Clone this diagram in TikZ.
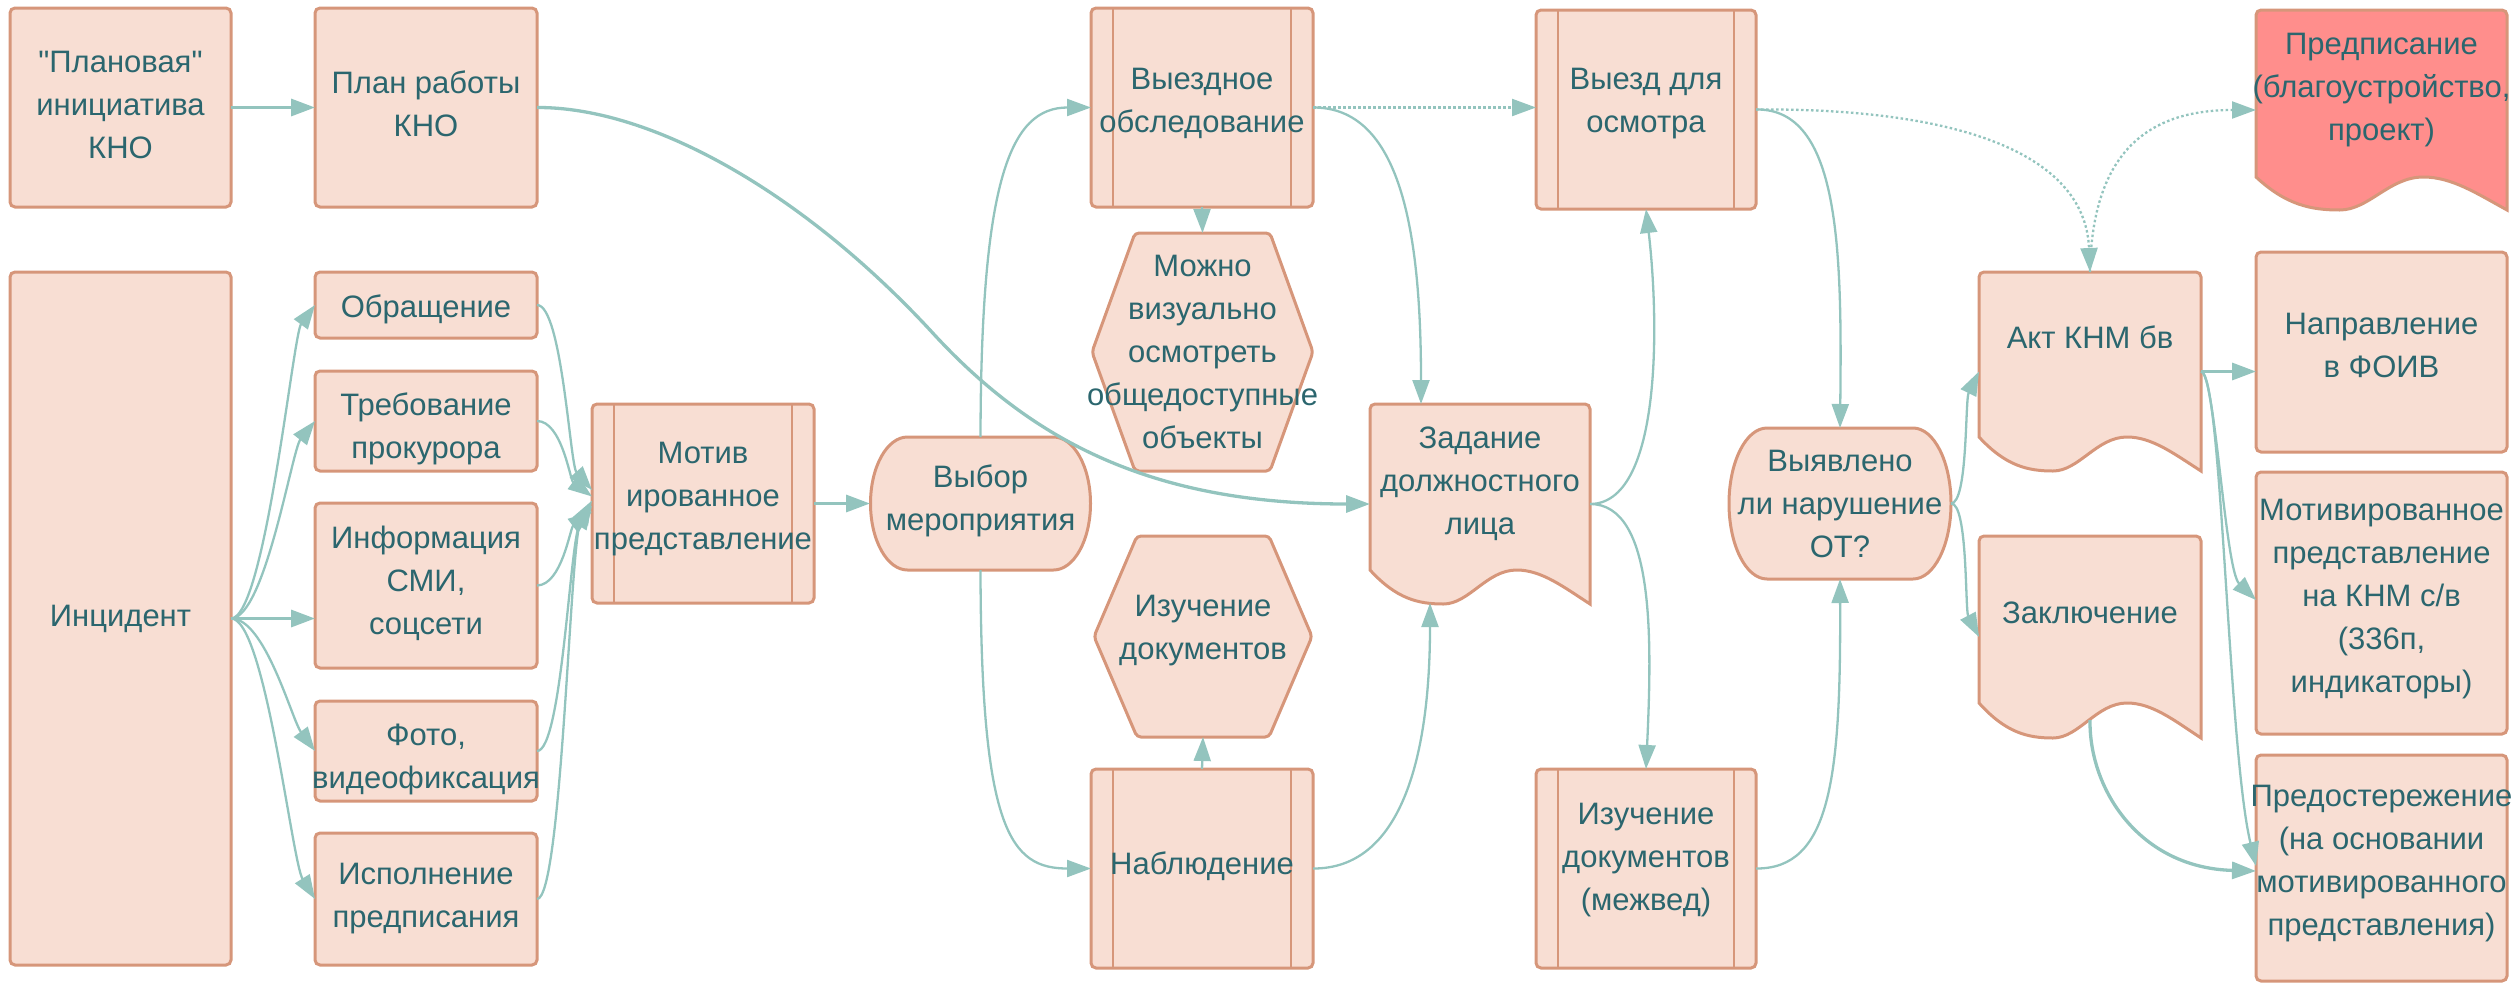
\documentclass[tikz,border=0pt]{standalone}
\usepackage{fontspec}
\newfontfamily\diagfont{Liberation Sans}
\usetikzlibrary{arrows.meta,calc}
\definecolor{fillc}{RGB}{248,222,211}
\definecolor{strokec}{RGB}{214,150,122}
\definecolor{edgec}{RGB}{147,196,190}
\definecolor{textc}{RGB}{43,102,110}
\definecolor{redc}{RGB}{255,142,140}
\newcommand\docshape[6]{%
  \pgfmathsetmacro\dx{#2}\pgfmathsetmacro\dy{#3}\pgfmathsetmacro\dX{#4}%
  \pgfmathsetmacro\dl{#5}\pgfmathsetmacro\dh{#6}\pgfmathsetmacro\dw{\dX-\dx}%
  \path[#1] ({\dX},{\dl+\dh}) [rounded corners=5pt] -- ({\dX},{\dy}) -- ({\dx},{\dy}) -- ({\dx},{\dy+20}) [sharp corners] -- ({\dx},{\dl})
   .. controls ({\dx+0.12*\dw},{\dl+0.85*\dh}) and ({\dx+0.22*\dw},{\dl+\dh}) .. ({\dx+\dw/3},{\dl+\dh})
   .. controls ({\dx+0.45*\dw},{\dl+\dh}) and ({\dx+0.53*\dw},{\dl}) .. ({\dx+2*\dw/3},{\dl})
   .. controls ({\dx+0.78*\dw},{\dl}) and ({\dx+0.88*\dw},{\dl+0.5*\dh}) .. ({\dX},{\dl+\dh}) -- cycle;}
\newcommand\txt[3]{\node[txt] (#1-t) at ([yshift=#2pt]#1.center) {#3};}
\begin{document}
\begin{tikzpicture}[x=1pt,y=-1pt,
  txt/.style={font=\diagfont\fontsize{31}{43}\selectfont, text=textc, align=center, inner sep=0pt},
  ghost/.style={inner sep=0pt, outer sep=0pt},
  shp/.style={draw=strokec, fill=fillc, line width=3pt, rounded corners=5pt},
  box/.style={shp, inner sep=0pt, outer sep=0pt},
  inner/.style={draw=strokec, line width=2.5pt},
  edge/.style={draw=edgec, line width=2.3pt, -{Triangle[length=24pt,width=17pt]}},
  thickedge/.style={edge, line width=3.3pt},
  dotedge/.style={edge, dash pattern=on 2.5pt off 2.5pt},
  sz/.style 2 args={minimum width=#1pt, minimum height=#2pt}]
\useasboundingbox (0,0) rectangle (2519,983);
% ---------- plain boxes
\node[box, sz={221}{199}] (plan1) at (120.5,107.5) {};
\node[box, sz={222}{199}] (plan2) at (426,107.5) {};
\node[box, sz={221}{693}] (incident) at (120.5,618.5) {};
\node[box, sz={222}{66}] (obr) at (426,305) {};
\node[box, sz={222}{100}] (treb) at (426,421) {};
\node[box, sz={222}{165}] (info) at (426,585.5) {};
\node[box, sz={222}{100}] (foto) at (426,751) {};
\node[box, sz={222}{132}] (isp) at (426,899) {};
\node[box, sz={251}{200}] (napr) at (2381.5,352) {};
\node[box, sz={251}{262}] (motpr) at (2381.5,603) {};
\node[box, sz={251}{226}] (predost) at (2381.5,868) {};
% ---------- subroutine boxes
\node[box, sz={222}{199}] (motiv) at (703,503.5) {};
\node[box, sz={222}{199}] (vyezdnoe) at (1202,107.5) {};
\node[box, sz={222}{199}] (nabl) at (1202,868.5) {};
\node[box, sz={220}{199}] (vyezd) at (1646,109.5) {};
\node[box, sz={220}{199}] (mezhved) at (1646,868.5) {};
\foreach \n in {motiv,vyezdnoe,nabl,vyezd,mezhved}{
  \draw[inner] ([xshift=22pt]\n.north west) -- ([xshift=22pt]\n.south west);
  \draw[inner] ([xshift=-22pt]\n.north east) -- ([xshift=-22pt]\n.south east);
}
% ---------- stadiums
\path[shp, sharp corners] (907.5,437) -- (1053.5,437) arc[start angle=90,end angle=-90,x radius=37pt,y radius=66.5pt]
  -- (907.5,570) arc[start angle=270,end angle=90,x radius=37pt,y radius=66.5pt] -- cycle;
\node[ghost, sz={221}{133}] (vybor) at (980.5,503.5) {};
\path[shp, sharp corners] (1767,428) -- (1913,428) arc[start angle=90,end angle=-90,x radius=38pt,y radius=75.5pt]
  -- (1767,579) arc[start angle=270,end angle=90,x radius=38pt,y radius=75.5pt] -- cycle;
\node[ghost, sz={222}{151}] (vyyavleno) at (1840,503.5) {};
% ---------- hexagons
\path[shp, rounded corners=4pt] (1135,233) -- (1270,233) -- (1313,352) -- (1270,471) -- (1135,471) -- (1092,352) -- cycle;
\node[ghost, sz={221}{238}] (mozhno) at (1202.5,352) {};
\path[shp, rounded corners=4pt] (1137,536) -- (1269,536) -- (1312,636.5) -- (1269,737) -- (1137,737) -- (1094,636.5) -- cycle;
\node[ghost, sz={218}{201}] (izuch) at (1203,636.5) {};
% ---------- documents
\docshape{shp}{1370}{404}{1590}{570}{34}
\node[ghost, sz={220}{200}] (zadanie) at (1480,504) {};
\docshape{shp}{1979}{272}{2201}{437}{34}
\node[ghost, sz={222}{199}] (akt) at (2090,371.5) {};
\docshape{shp}{1979}{536}{2201}{703}{35}
\node[ghost, sz={222}{202}] (zakl) at (2090,637) {};
\docshape{shp, fill=redc}{2256}{10}{2507}{177}{33}
\node[ghost, sz={251}{200}] (predp) at (2381.5,110) {};
% ---------- texts
\txt{plan1}{3}{"Плановая"\\инициатива\\КНО}
\txt{plan2}{4}{План работы\\КНО}
\txt{incident}{0}{Инцидент}
\txt{obr}{-4}{Обращение}
\txt{treb}{-8}{Требование\\прокурора}
\txt{info}{2}{Информация\\СМИ,\\соцсети}
\txt{foto}{-8}{Фото,\\видеофиксация}
\txt{isp}{0}{Исполнение\\предписания}
\txt{motiv}{4}{Мотив\\ированное\\представление}
\txt{vybor}{3}{Выбор\\мероприятия}
\txt{vyezdnoe}{4}{Выездное\\обследование}
\txt{mozhno}{0}{Можно\\визуально\\осмотреть\\общедоступные\\объекты}
\txt{izuch}{6}{Изучение\\документов}
\txt{nabl}{2}{Наблюдение}
\txt{zadanie}{20}{Задание\\должностного\\лица}
\txt{vyezd}{6}{Выезд для\\осмотра}
\txt{mezhved}{8}{Изучение\\документов\\(межвед)}
\txt{vyyavleno}{0}{Выявлено\\ли нарушение\\ОТ?}
\txt{akt}{34}{Акт КНМ бв}
\txt{zakl}{24}{Заключение}
\txt{predp}{20}{Предписание\\(благоустройство,\\проект)}
\txt{napr}{7}{Направление\\в ФОИВ}
\txt{motpr}{4}{Мотивированное\\представление\\на КНМ с/в\\(336п,\\индикаторы)}
\txt{predost}{4}{Предостережение\\(на основании\\мотивированного\\представления)}
% ---------- edges
\draw[thickedge] (plan1.east) -- (plan2.west);
\draw[thickedge] (plan2.east) .. controls (650,107) and (800,190) .. (930,330)
   .. controls (1030,440) and (1150,504) .. (zadanie.west);
\draw[edge] (incident.east) .. controls (265,618) and (293,335) .. (obr.west);
\draw[edge] (incident.east) .. controls (265,618) and (292,450) .. (treb.west);
\draw[thickedge] (incident.east) -- (incident.east -| info.west);
\draw[edge] (incident.east) .. controls (265,618) and (292,720) .. (foto.west);
\draw[edge] (incident.east) .. controls (265,618) and (292,862) .. (isp.west);
\draw[edge] (obr.east) .. controls (562,305) and (570,465) .. ([yshift=13.5pt]motiv.west);
\draw[edge] (treb.east) .. controls (562,421) and (570,480) .. ([yshift=7pt]motiv.west);
\draw[edge] (info.east) .. controls (562,585) and (570,528) .. ([yshift=-8pt]motiv.west);
\draw[edge] (foto.east) .. controls (562,751) and (570,540) .. ([yshift=-2pt]motiv.west);
\draw[edge] (isp.east) .. controls (562,899) and (570,540) .. ([yshift=3pt]motiv.west);
\draw[thickedge] (motiv.east) -- (vybor.west);
\draw[edge] (vybor.north) .. controls (981,180) and (1010,107.5) .. (vyezdnoe.west);
\draw[edge] (vybor.south) .. controls (981,830) and (1010,868.5) .. (nabl.west);
\draw[edge] (vyezdnoe.south) -- (mozhno.north);
\draw[edge] (nabl.north) -- (izuch.south);
\draw[dotedge] (vyezdnoe.east) -- (vyezdnoe.east -| vyezd.west);
\draw[edge] (vyezdnoe.east) .. controls (1400,107) and (1421,230) .. ([xshift=-59pt]zadanie.north);
\draw[edge] (zadanie.east) .. controls (1660,504) and (1660,330) .. (vyezd.south);
\draw[edge] (zadanie.east) .. controls (1655,504) and (1652,640) .. (mezhved.north);
\draw[edge] (nabl.east) .. controls (1400,869) and (1430,760) .. ([xshift=-50pt,yshift=1pt]zadanie.south);
\draw[edge] (vyezd.east) .. controls (1840,108) and (1842,250) .. (vyyavleno.north);
\draw[dotedge] (vyezd.east) .. controls (1950,108) and (2085,150) .. (akt.north);
\draw[dotedge] (akt.north) .. controls (2092,150) and (2150,110) .. (predp.west);
\draw[edge] (vyyavleno.east) .. controls (1968,503) and (1965,400) .. (akt.west);
\draw[edge] (vyyavleno.east) .. controls (1968,503) and (1965,610) .. (zakl.west);
\draw[edge] (mezhved.east) .. controls (1830,869) and (1841,780) .. (vyyavleno.south);
\draw[thickedge] (akt.east) -- (akt.east -| napr.west);
\draw[edge] (akt.east) .. controls (2215,372) and (2225,570) .. ([yshift=3pt]motpr.west);
\draw[edge] (akt.east) .. controls (2222,372) and (2228,750) .. ([yshift=2pt]predost.west);
\draw[thickedge] ([yshift=18pt]zakl.south) .. controls (2089,790) and (2140,868) .. ([yshift=-3pt]predost.west);
\end{tikzpicture}
\end{document}
